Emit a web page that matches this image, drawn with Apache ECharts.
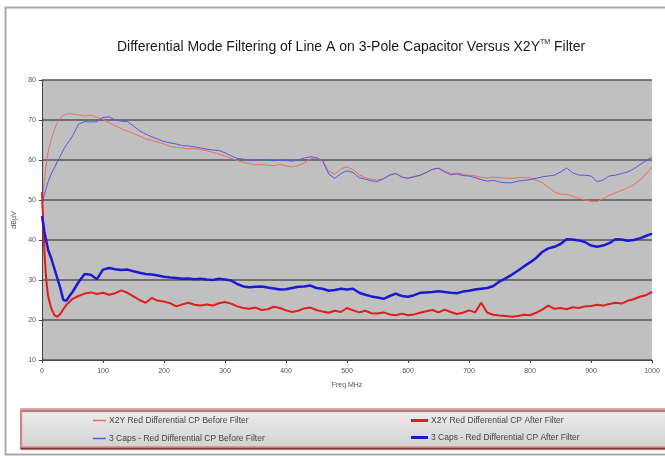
<!DOCTYPE html>
<html>
<head>
<meta charset="utf-8">
<script src="https://cdn.jsdelivr.net/npm/echarts@6/dist/echarts.min.js"></script>
<style>
  html, body { margin: 0; padding: 0; background: #ffffff; }
  #chart { width: 665px; height: 456px; }
</style>
</head>
<body>
<div id="chart"></div>
<script>
// Frequency points (MHz); denser sampling at the low end where curves move fast
const freq = [0, 2, 4, 6, 8, 10, 15, 20, 25, 30, 35, 40, 45, 50,
  60, 70, 80, 90, 100, 110, 120, 130, 140, 150, 160, 170, 180, 190, 200,
  210, 220, 230, 240, 250, 260, 270, 280, 290, 300, 310, 320, 330, 340, 350,
  360, 370, 380, 390, 400, 410, 420, 430, 440, 450, 460, 470, 480, 490, 500,
  510, 520, 530, 540, 550, 560, 570, 580, 590, 600, 610, 620, 630, 640, 650,
  660, 670, 680, 690, 700, 710, 720, 730, 740, 750, 760, 770, 780, 790, 800,
  810, 820, 830, 840, 850, 860, 870, 880, 890, 900, 910, 920, 930, 940, 950,
  960, 970, 980, 990, 1000];

// X2Y, before filter (dBµV)
const x2yBefore = [48, 52, 55, 58, 60, 62, 65, 67.5, 69.3, 70.5, 71.2, 71.5, 71.6, 71.5,
  71.3, 71.0, 71.2, 70.6, 70.2, 69.3, 68.6, 67.8, 67.2, 66.6, 66.0, 65.3, 64.9, 64.5, 64.0,
  63.4, 63.2, 63.0, 62.8, 62.9, 62.6, 62.3, 61.9, 61.5, 61.0, 60.4, 59.9, 59.4, 59.1, 58.8,
  58.9, 58.7, 58.6, 58.9, 58.5, 58.3, 58.6, 59.3, 60.3, 60.5, 59.8, 57.2, 56.5, 57.8, 58.3,
  57.6, 56.3, 55.6, 55.2, 55.0, 55.4, 56.3, 56.7, 55.8, 55.5, 55.9, 56.2, 56.8, 57.6, 58.0,
  57.3, 56.6, 56.8, 56.4, 56.2, 56.0, 55.7, 55.5, 55.7, 55.6, 55.5, 55.4, 55.6, 55.6, 55.5,
  55.0, 54.3, 53.2, 52.0, 51.5, 51.4, 51.0, 50.4, 50.0, 49.7, 49.6, 50.3, 51.2, 51.8, 52.4,
  53.0, 53.8, 55.0, 56.5, 58.3];

// X2Y, after filter (dBµV)
const x2yAfter = [52, 44, 37, 32, 28.5, 26, 23, 21.3, 20.8, 21.5, 22.7, 23.8, 24.5, 25.3,
  26.0, 26.6, 26.9, 26.5, 26.8, 26.3, 26.7, 27.4, 26.8, 25.9, 25.0, 24.3, 25.5, 24.8, 24.6,
  24.2, 23.4, 23.9, 24.3, 23.8, 23.6, 23.9, 23.6, 24.2, 24.5, 24.1, 23.4, 23.0, 22.8, 23.1,
  22.5, 22.7, 23.3, 23.0, 22.4, 22.0, 22.3, 22.9, 23.1, 22.5, 22.1, 21.8, 22.3, 22.0, 23.0,
  22.4, 21.9, 22.3, 21.7, 21.6, 21.9, 21.4, 21.2, 21.6, 21.2, 21.4, 21.8, 22.2, 22.5, 21.9,
  22.6, 22.0, 21.5, 21.8, 22.4, 21.9, 24.3, 21.8, 21.3, 21.1, 21.0, 20.8, 21.0, 21.3, 21.2,
  21.8, 22.6, 23.6, 22.8, 23.0, 22.7, 23.2, 23.0, 23.4, 23.5, 23.8, 23.6, 24.0, 24.3, 24.1,
  24.8, 25.2, 25.8, 26.2, 27.0];

// 3 capacitors, before filter (dBµV)
const capsBefore = [49, 50, 51.5, 52.5, 53.5, 54.5, 56.5, 58, 59.5, 61, 62.5, 63.8, 64.8, 66,
  69, 69.6, 69.5, 69.6, 70.6, 70.8, 70.0, 69.7, 69.6, 68.5, 67.3, 66.5, 65.8, 65.2, 64.6,
  64.3, 64.0, 63.6, 63.5, 63.3, 63.0, 62.7, 62.5, 62.4, 61.8, 61.0, 60.4, 60.2, 59.9, 60.0,
  60.1, 60.0, 59.8, 60.0, 59.9, 59.7, 60.0, 60.5, 60.8, 60.6, 59.8, 56.5, 55.4, 56.6, 57.3,
  56.9, 55.6, 55.2, 54.8, 54.6, 55.3, 56.2, 56.6, 55.7, 55.4, 55.8, 56.2, 56.9, 57.7, 57.9,
  57.0, 56.3, 56.5, 56.1, 56.0, 55.6, 55.1, 54.7, 54.9, 54.5, 54.3, 54.3, 54.7, 54.9, 55.1,
  55.4, 55.8, 56.0, 56.2, 57.0, 58.0, 56.8, 56.2, 56.2, 56.0, 54.6, 55.0, 56.0, 56.2, 56.6,
  57.0, 57.8, 58.8, 59.8, 60.8];

// 3 capacitors, after filter (dBµV)
const capsAfter = [46, 44, 42, 40.5, 39, 37.5, 35.5, 33, 30.5, 28, 25, 24.8, 26, 27,
  29.5, 31.5, 31.3, 30.2, 32.6, 33.0, 32.7, 32.5, 32.6, 32.2, 31.8, 31.5, 31.4, 31.1, 30.8,
  30.6, 30.5, 30.3, 30.4, 30.2, 30.3, 30.1, 30.0, 30.3, 30.1, 29.9, 29.0, 28.4, 28.2, 28.3,
  28.4, 28.1, 27.9, 27.6, 27.7, 28.0, 28.3, 28.4, 28.6, 28.0, 27.8, 27.3, 27.5, 27.8, 27.6,
  27.8, 26.8, 26.3, 25.9, 25.6, 25.3, 26.0, 26.6, 26.0, 25.8, 26.2, 26.8, 26.9, 27.0, 27.2,
  27.0, 26.8, 26.7, 27.1, 27.3, 27.6, 27.8, 28.0, 28.5, 29.6, 30.4, 31.3, 32.3, 33.4, 34.4,
  35.5, 37.0, 37.9, 38.3, 39.0, 40.2, 40.1, 39.9, 39.5, 38.6, 38.3, 38.6, 39.2, 40.2, 40.1,
  39.8, 40.0, 40.4, 41.0, 41.6];

const seriesNames = [
  'X2Y Red Differential CP Before Filter',
  'X2Y Red Differential CP After Filter',
  '3 Caps - Red Differential CP Before Filter',
  '3 Caps - Red Differential CP After Filter'
];

const xTicks = [0, 100, 200, 300, 400, 500, 600, 700, 800, 900, 1000];
const yTicks = [10, 20, 30, 40, 50, 60, 70, 80];

const pair = vals => freq.map((f, i) => [f, vals[i]]);

const fontFamily = 'Liberation Sans Narrow, Liberation Sans, sans-serif';
const tickFont = { color: '#555', fontSize: 7, fontFamily: fontFamily };
const legendFont = { color: '#444', fontSize: 8.5, fontFamily: fontFamily, padding: [0, 0, 0, -2] };

function lineSeries(name, vals, color, width, z) {
  return {
    name: name,
    type: 'line',
    data: pair(vals),
    showSymbol: false,
    symbol: 'none',
    z: z,
    lineStyle: { color: color, width: width },
    itemStyle: { color: color }
  };
}

const chart = echarts.init(document.getElementById('chart'), null, { renderer: 'canvas' });

chart.setOption({
  backgroundColor: '#ffffff',
  animation: false,
  title: {
    text: 'Differential Mode Filtering of Line A on 3-Pole Capacitor Versus X2Y{sup|TM} Filter',
    left: 346,
    textAlign: 'center',
    top: 34,
    textStyle: {
      color: '#1a1a1a',
      fontSize: 14,
      fontWeight: 'normal',
      fontFamily: fontFamily,
      rich: {
        sup: { fontSize: 7, verticalAlign: 'top', padding: [0, 0, 9, 0], color: '#1a1a1a', fontFamily: fontFamily }
      }
    }
  },
  graphic: [
    {
      type: 'rect',
      shape: { x: 5.5, y: 7.5, width: 700, height: 447 },
      style: { fill: 'none', stroke: '#a9a9a9', lineWidth: 2 },
      silent: true, z: -10
    },
    {
      type: 'rect',
      shape: { x: 21, y: 409, width: 700, height: 38 },
      style: {
        fill: new echarts.graphic.LinearGradient(0, 0, 0, 1, [
          { offset: 0, color: '#eeeeee' },
          { offset: 1, color: '#d2d2d2' }
        ]),
        stroke: '#d98c8c', lineWidth: 1.5,
        shadowColor: 'rgba(120,30,30,0.8)', shadowBlur: 1, shadowOffsetY: 2, shadowOffsetX: 0
      },
      silent: true, z: -5
    }
  ],
  legend: [
    {
      data: [seriesNames[0], seriesNames[2]],
      orient: 'vertical',
      left: 88, top: 411,
      itemWidth: 13, itemHeight: 1.5, itemGap: 9,
      icon: 'rect',
      textStyle: legendFont
    },
    {
      data: [seriesNames[1], seriesNames[3]],
      orient: 'vertical',
      left: 406, top: 411,
      itemWidth: 17, itemHeight: 3, itemGap: 8,
      icon: 'rect',
      textStyle: legendFont
    }
  ],
  grid: {
    left: 42, right: 13, top: 80, bottom: 96,
    show: true, backgroundColor: '#c0c0c0', borderWidth: 0
  },
  xAxis: {
    type: 'value',
    min: xTicks[0], max: xTicks[xTicks.length - 1], interval: 100,
    name: 'Freq MHz', nameLocation: 'middle', nameGap: 22,
    nameTextStyle: tickFont,
    axisLine: { show: true, lineStyle: { color: '#444', width: 1 } },
    axisTick: { show: true, length: 3, lineStyle: { color: '#444' } },
    axisLabel: Object.assign({ margin: 8, formatter: v => String(v) }, tickFont),
    splitLine: { show: false }
  },
  yAxis: {
    type: 'value',
    min: yTicks[0], max: yTicks[yTicks.length - 1], interval: 10,
    name: 'dBµV', nameLocation: 'middle', nameGap: 18, nameRotate: 90,
    nameTextStyle: tickFont,
    axisLine: { show: true, lineStyle: { color: '#444', width: 1 } },
    axisTick: { show: true, length: 3, lineStyle: { color: '#444' } },
    axisLabel: Object.assign({ margin: 6 }, tickFont),
    splitLine: { show: true, lineStyle: { color: '#555', width: 1.5 } }
  },
  series: [
    lineSeries(seriesNames[0], x2yBefore, '#ee6a6a', 1, 3),
    lineSeries(seriesNames[1], x2yAfter, '#e01c1c', 2, 4),
    lineSeries(seriesNames[2], capsBefore, '#5858e0', 1, 3),
    lineSeries(seriesNames[3], capsAfter, '#1a1ad0', 2.5, 5)
  ]
});
</script>
</body>
</html>
